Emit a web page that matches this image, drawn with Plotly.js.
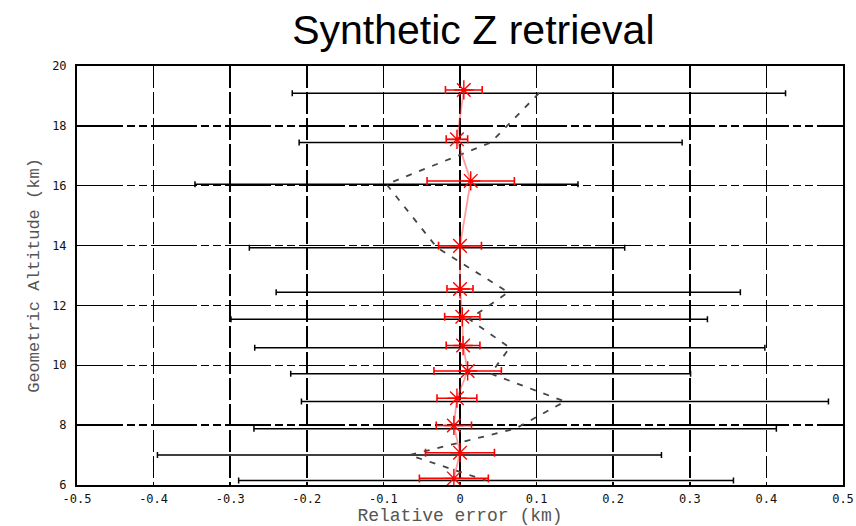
<!DOCTYPE html>
<html>
<head>
<meta charset="utf-8">
<script src="https://cdn.plot.ly/plotly-3.0.1.min.js"></script>
<style>html,body{margin:0;padding:0;background:#fff;}#chart{width:856px;height:526px;}</style>
</head>
<body>
<div id="chart"></div>
<script>
// Black (dashed) series: altitude (km), relative error centre, half-width of error bar
var blackAlt = [19.09, 17.44, 16.05, 13.93, 12.44, 11.54, 10.59, 9.72, 8.79, 7.88, 7.00, 6.15];
var blackX   = [0.103, 0.040, -0.096, -0.030, 0.063, 0.012, 0.065, 0.040, 0.137, 0.072, -0.066, 0.034];
var blackErr = [0.322, 0.250, 0.250, 0.245, 0.303, 0.311, 0.333, 0.261, 0.344, 0.341, 0.329, 0.323];

// Red (retrieved) series
var redAlt = [19.20, 17.55, 16.16, 13.99, 12.55, 11.62, 10.66, 9.81, 8.90, 7.99, 7.08, 6.22];
var redX   = [0.005, -0.004, 0.014, 0.000, 0.000, 0.003, 0.004, 0.010, -0.004, -0.008, 0.000, -0.008];
var redErr = [0.024, 0.014, 0.057, 0.028, 0.017, 0.023, 0.022, 0.044, 0.026, 0.023, 0.045, 0.045];

// Tick labels
var xTickVals = [-0.5, -0.4, -0.3, -0.2, -0.1, 0, 0.1, 0.2, 0.3, 0.4, 0.5];
var xTickText = ["-0.5", "-0.4", "-0.3", "-0.2", "-0.1", "0", "0.1", "0.2", "0.3", "0.4", "0.5"];
var yTickVals = [6, 8, 10, 12, 14, 16, 18, 20];
var yTickText = ["6", "8", "10", "12", "14", "16", "18", "20"];

var traces = [
  {
    x: blackX, y: blackAlt, type: 'scatter', mode: 'lines',
    line: {color: '#444444', width: 1.8, dash: '6px,8px'},
    error_x: {type: 'data', array: blackErr, visible: true, color: '#000000', thickness: 1.5, width: 3},
    hoverinfo: 'skip', showlegend: false
  },
  {
    x: redX, y: redAlt, type: 'scatter', mode: 'lines+markers',
    line: {color: 'rgba(255,60,60,0.5)', width: 1.8},
    marker: {symbol: 'asterisk-open', size: 16, color: '#ff0000', line: {color: '#ff2020', width: 1.4}},
    error_x: {type: 'data', array: redErr, visible: true, color: '#ff0000', thickness: 1.6, width: 4},
    hoverinfo: 'skip', showlegend: false
  }
];

var tickFont = {family: 'DejaVu Sans Mono', size: 12, color: '#111'};
var layout = {
  width: 856, height: 526,
  margin: {l: 77, r: 13, t: 66, b: 41, pad: 0},
  paper_bgcolor: '#fff', plot_bgcolor: '#fff',
  title: {
    text: 'Synthetic Z retrieval',
    font: {family: 'Liberation Sans', size: 41, color: '#000'},
    x: 0.553, xref: 'container', xanchor: 'center', y: 0.943, yref: 'container', yanchor: 'middle'
  },
  xaxis: {
    range: [-0.5, 0.5], tickmode: 'array', tickvals: xTickVals, ticktext: xTickText,
    showgrid: true, gridcolor: '#000', gridwidth: 1.5, griddash: '22px,4px',
    zeroline: false, showline: true, linecolor: '#000', linewidth: 2, mirror: true,
    ticks: '', tickfont: tickFont, ticklabelstandoff: 2,
    title: {text: 'Relative error (km)', font: {family: 'Liberation Mono', size: 18, color: '#555'}, standoff: 2}
  },
  yaxis: {
    range: [6, 20], tickmode: 'array', tickvals: yTickVals, ticktext: yTickText,
    showgrid: true, gridcolor: '#000', gridwidth: 1.5, griddash: '46px,4px,8px,4px,8px,4px',
    zeroline: false, showline: true, linecolor: '#000', linewidth: 2, mirror: true,
    ticks: '', tickfont: tickFont, ticklabelstandoff: 6,
    title: {text: 'Geometric Altitude (km)', font: {family: 'Liberation Mono', size: 17, color: '#555'}, standoff: 8}
  }
};

Plotly.newPlot('chart', traces, layout, {displayModeBar: false, staticPlot: true});
</script>
</body>
</html>
